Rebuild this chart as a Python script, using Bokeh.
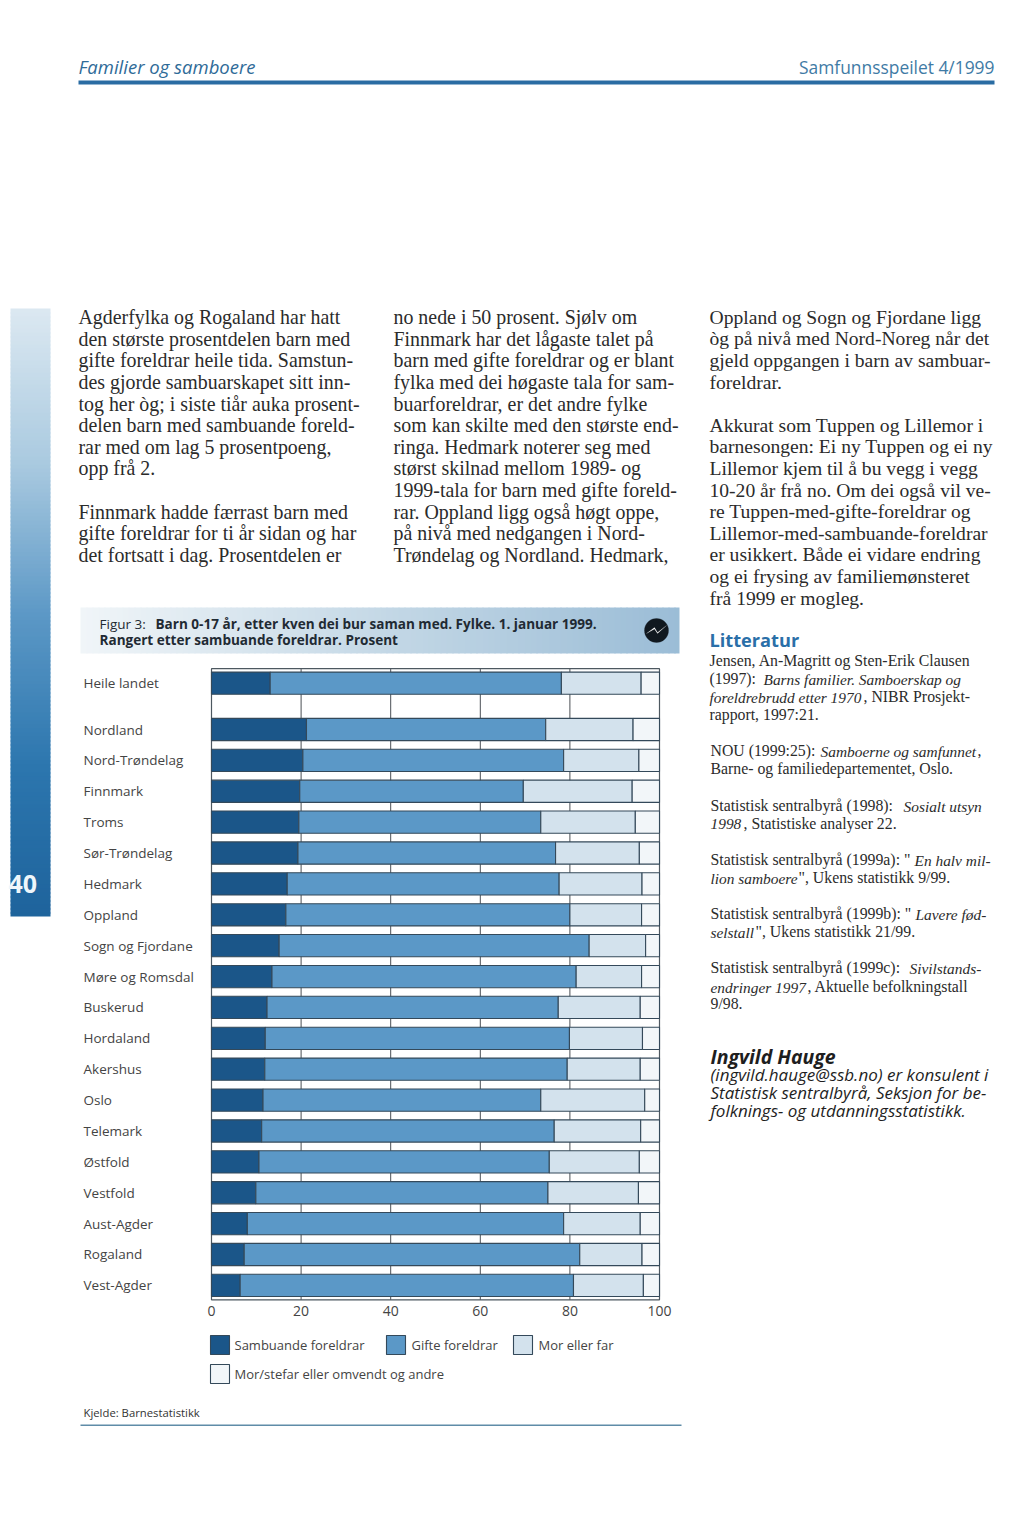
import math
from bokeh.core.properties import value
from bokeh.embed import file_html
from bokeh.resources import INLINE
from bokeh.plotting import figure
from bokeh.models import (BoxAnnotation, ColumnDataSource, FixedTicker, Label, LabelSet,
                          PolyAnnotation, Range1d)

# ---------- data ----------
fylke = ["Heile landet", "Nordland", "Nord-Trøndelag", "Finnmark", "Troms", "Sør-Trøndelag",
         "Hedmark", "Oppland", "Sogn og Fjordane", "Møre og Romsdal", "Buskerud", "Hordaland",
         "Akershus", "Oslo", "Telemark", "Østfold", "Vestfold", "Aust-Agder", "Rogaland", "Vest-Agder"]
sambuande = [13.1, 21.2, 20.4, 19.7, 19.5, 19.3, 16.9, 16.6, 15.1, 13.5, 12.4, 12.0, 11.9, 11.5, 11.2, 10.6, 9.9, 8.0, 7.3, 6.4]
gifte = [65.0, 53.4, 58.2, 49.9, 54.0, 57.5, 60.7, 63.4, 69.2, 67.9, 65.0, 67.9, 67.5, 62.0, 65.3, 64.8, 65.2, 70.6, 74.9, 74.4]
mor_far = [17.8, 19.5, 16.8, 24.3, 21.1, 18.7, 18.5, 16.0, 12.6, 14.6, 18.3, 16.3, 16.3, 23.2, 19.3, 20.1, 20.2, 17.1, 13.9, 15.6]
andre = [4.1, 5.9, 4.6, 6.1, 5.4, 4.5, 3.9, 4.0, 3.1, 4.0, 4.3, 3.8, 4.3, 3.3, 4.2, 4.5, 4.7, 4.3, 3.9, 3.6]
x_ticks = [0, 20, 40, 60, 80, 100]
series_names = ["Sambuande foreldrar", "Gifte foreldrar", "Mor eller far", "Mor/stefar eller omvendt og andre"]
series_colors = ["#1b5689", "#5b98c7", "#d3e2ed", "#f2f6f9"]

col1 = {0: "Agderfylka og Rogaland har hatt", 1: "den største prosentdelen barn med",
        2: "gifte foreldrar heile tida. Samstun-", 3: "des gjorde sambuarskapet sitt inn-",
        4: "tog her òg; i siste tiår auka prosent-", 5: "delen barn med sambuande foreld-",
        6: "rar med om lag 5 prosentpoeng,", 7: "opp frå 2.",
        9: "Finnmark hadde færrast barn med", 10: "gifte foreldrar for ti år sidan og har",
        11: "det fortsatt i dag. Prosentdelen er"}
col2 = ["no nede i 50 prosent. Sjølv om", "Finnmark har det lågaste talet på",
        "barn med gifte foreldrar og er blant", "fylka med dei høgaste tala for sam-",
        "buarforeldrar, er det andre fylke", "som kan skilte med den største end-",
        "ringa. Hedmark noterer seg med", "størst skilnad mellom 1989- og",
        "1999-tala for barn med gifte foreld-", "rar. Oppland ligg også høgt oppe,",
        "på nivå med nedgangen i Nord-", "Trøndelag og Nordland. Hedmark,"]
col3 = {0: "Oppland og Sogn og Fjordane ligg", 1: "òg på nivå med Nord-Noreg når det",
        2: "gjeld oppgangen i barn av sambuar-", 3: "foreldrar.",
        5: "Akkurat som Tuppen og Lillemor i", 6: "barnesongen: Ei ny Tuppen og ei ny",
        7: "Lillemor kjem til å bu vegg i vegg", 8: "10-20 år frå no. Om dei også vil ve-",
        9: "re Tuppen-med-gifte-foreldrar og", 10: "Lillemor-med-sambuande-foreldrar",
        11: "er usikkert. Både ei vidare endring", 12: "og ei frysing av familiemønsteret",
        13: "frå 1999 er mogleg."}
# (baseline, [(x, text, italic), ...])
refs = [
    (667, [(709, "Jensen, An-Magritt og Sten-Erik Clausen", False)]),
    (685, [(709, "(1997): ", False), (763, "Barns familier. Samboerskap og", True)]),
    (703, [(709, "foreldrebrudd etter 1970", True), (863, ", NIBR Prosjekt-", False)]),
    (721, [(709, "rapport, 1997:21.", False)]),
    (757, [(710, "NOU (1999:25): ", False), (820, "Samboerne og samfunnet", True), (977, ",", False)]),
    (775, [(710, "Barne- og familiedepartementet, Oslo.", False)]),
    (812, [(710, "Statistisk sentralbyrå (1998): ", False), (903, "Sosialt utsyn", True)]),
    (830, [(710, "1998", True), (743, ", Statistiske analyser 22.", False)]),
    (866, [(710, "Statistisk sentralbyrå (1999a): \"", False), (914, "En halv mil-", True)]),
    (884, [(710, "lion samboere", True), (798, "\", Ukens statistikk 9/99.", False)]),
    (920, [(710, "Statistisk sentralbyrå (1999b): \"", False), (915, "Lavere fød-", True)]),
    (938, [(710, "selstall", True), (755, "\", Ukens statistikk 21/99.", False)]),
    (974, [(710, "Statistisk sentralbyrå (1999c): ", False), (909, "Sivilstands-", True)]),
    (993, [(710, "endringer 1997", True), (807, ", Aktuelle befolkningstall", False)]),
    (1010, [(710, "9/98.", False)]),
]
author = ["(ingvild.hauge@ssb.no) er konsulent i", "Statistisk sentralbyrå, Seksjon for be-",
          "folknings- og utdanningsstatistikk."]

# ---------- chart ----------
W, H = 1016, 1509
PX_X0, PX_PER_PCT = 211.0, 4.48      # page x of 0 %, px per %
PX_Y0, PX_PER_ROW = 682.7, 30.88     # page y of first row, px per row
Y_TOP, Y_BOTTOM = -0.47, 19.97
y_pos = [0.0] + [1.5 + i for i in range(len(fylke) - 1)]
left, stacks = [0.0] * len(fylke), []
for vals in (sambuande, gifte, mor_far, andre):
    right = [a + b for a, b in zip(left, vals)]
    stacks.append((left, right))
    left = right

p = figure(width=W, height=H, output_backend="svg", toolbar_location=None,
           x_range=Range1d(-PX_X0 / PX_PER_PCT, (W - PX_X0) / PX_PER_PCT),
           y_range=Range1d((H - PX_Y0) / PX_PER_ROW, -PX_Y0 / PX_PER_ROW),
           min_border=0, background_fill_color="white", border_fill_color="white")
p.outline_line_color = None
p.xgrid.visible = False
p.ygrid.visible = False
p.yaxis.visible = False

p.segment(x0=x_ticks[1:-1], x1=x_ticks[1:-1], y0=[Y_TOP] * 4, y1=[Y_BOTTOM] * 4,
          line_color="#4a4f55", line_width=1)
p.quad(left=[x_ticks[0]], right=[x_ticks[-1]], top=[Y_TOP], bottom=[Y_BOTTOM], fill_color=None,
       line_color="#4d5860", line_width=1.2)

ax = p.xaxis[0]
ax.fixed_location = Y_BOTTOM
ax.ticker = FixedTicker(ticks=x_ticks)
ax.major_tick_line_color = None
ax.minor_tick_line_color = None
ax.axis_line_color = None
ax.major_label_text_font = "Open Sans"
ax.major_label_text_font_size = "14px"
ax.major_label_text_color = "#444444"
ax.major_label_standoff = 0

for (l, r), col in zip(stacks, series_colors):
    p.hbar(y=y_pos, left=l, right=r, height=0.72, fill_color=col,
           line_color="#34495a", line_width=1.1)

src = ColumnDataSource(dict(y=y_pos, x=[83] * len(fylke), t=fylke))
p.add_layout(LabelSet(x="x", y="y", text="t", source=src, x_units="screen", y_units="data",
                      text_baseline="middle", text_font=value("Open Sans"),
                      text_font_size=value("13.5px"), text_color="#444444"))


# ---------- page furniture (page pixels) ----------
def box(x0, y0, x1, y1, fill, line=None, lw=1):
    p.add_layout(BoxAnnotation(left=x0, right=x1, top=H - y0, bottom=H - y1,
                               left_units="screen", right_units="screen", top_units="screen",
                               bottom_units="screen", fill_color=fill, fill_alpha=1,
                               line_color=line, line_alpha=1, line_width=lw))


def txt(x, y, s, size, font="Liberation Serif", style="normal", color="#2b2b2b", align="left"):
    p.add_layout(Label(x=x, y=H - y + 0.42 * size, text=s, x_units="screen", y_units="screen",
                       text_font=font, text_font_size=f"{size}px", text_font_style=style,
                       text_color=color, text_align=align, text_baseline="alphabetic"))


def lerp(stops, t):
    for (a, ca), (b, cb) in zip(stops, stops[1:]):
        if t <= b:
            f = (t - a) / (b - a)
            return "#%02x%02x%02x" % tuple(round(u + (v - u) * f) for u, v in zip(ca, cb))
    return "#%02x%02x%02x" % stops[-1][1]


# side strip
side = [(0, (219, 232, 241)), (.25, (170, 202, 224)), (.5, (92, 152, 198)), (.75, (44, 118, 174)), (1, (30, 99, 156))]
for i in range(0, 608, 4):
    box(10, 308 + i, 50, 308 + i + 5 if i < 604 else 916, lerp(side, i / 608))
txt(8, 894, "40", 25, "Open Sans", "bold", "#eef6fb")

# header
txt(78, 74, "Familier og samboere", 18.5, "Open Sans", "italic", "#2f6b98")
txt(994, 74, "Samfunnsspeilet 4/1999", 17.4, "Open Sans", "normal", "#3f7ba5", "right")
box(78, 80, 994, 84, "#2a6ca3")

# body text
for k, s in col1.items():
    txt(78, 325 + 21.6 * k, s, 19.9)
for k, s in enumerate(col2):
    txt(393, 325 + 21.6 * k, s, 19.9)
for k, s in col3.items():
    txt(709, 325 + 21.6 * k, s, 19.6)

# figure banner
banner = [(0, (240, 245, 248)), (.5, (196, 216, 230)), (1, (154, 188, 214))]
for i in range(0, 600, 6):
    box(80 + i, 607, 80 + i + 7 if i < 594 else 679, 653, lerp(banner, i / 600))
txt(99, 629, "Figur 3: ", 13.5, "Open Sans", "normal", "#1f2a33")
txt(155, 629, "Barn 0-17 år, etter kven dei bur saman med. Fylke. 1. januar 1999.", 13.55, "Open Sans", "bold", "#1f2a33")
txt(99, 645, "Rangert etter sambuande foreldrar.  Prosent", 13.55, "Open Sans", "bold", "#1f2a33")
cx, cy, rr = 656, H - 630, 12
n = 40
p.add_layout(PolyAnnotation(xs=[cx + rr * math.cos(2 * math.pi * i / n) for i in range(n)],
                            ys=[cy + rr * math.sin(2 * math.pi * i / n) for i in range(n)],
                            xs_units="screen", ys_units="screen", fill_color="#10181f", fill_alpha=1,
                            line_color="#10181f"))
p.add_layout(PolyAnnotation(xs=[cx - 10, cx - 2, cx + 1, cx + 10, cx + 1, cx - 2],
                            ys=[cy - 3, cy + 3, cy - 2, cy + 5, cy - 3, cy + 1.5],
                            xs_units="screen", ys_units="screen", fill_color="white", fill_alpha=1,
                            line_color="white", line_width=0.5))

# legend
swatches = [(210, 1335, 229, 1354, 234, 1350), (386, 1335, 405, 1354, 411, 1350),
            (513, 1335, 532, 1354, 538, 1350), (210, 1364, 229, 1383, 234, 1379)]
for (x0, y0, x1, y1, tx, ty), col, name in zip(swatches, series_colors, series_names):
    box(x0, y0, x1, y1, col, "#34495a", 1.1)
    txt(tx, ty, name, 13, "Open Sans", "normal", "#444444")

# source
txt(83, 1417, "Kjelde: Barnestatistikk", 11.3, "Open Sans", "normal", "#333333")
box(80, 1424, 681, 1425.5, "#5f8ca8")

# literature
txt(709, 647, "Litteratur", 18.2, "Open Sans", "bold", "#2a6fa8")
for base, runs in refs:
    for x, s, ital in runs:
        txt(x, base, s, 15.4 if ital else 15.8, "Liberation Serif", "italic" if ital else "normal")

# author
txt(710, 1064, "Ingvild Hauge", 19.5, "Open Sans", "bold italic", "#1e1e1e")
for k, s in enumerate(author):
    txt(710, 1081 + 18 * k, s, 17, "Open Sans", "italic", "#1e1e1e")

open("out.html", "w").write(file_html(p, INLINE))
